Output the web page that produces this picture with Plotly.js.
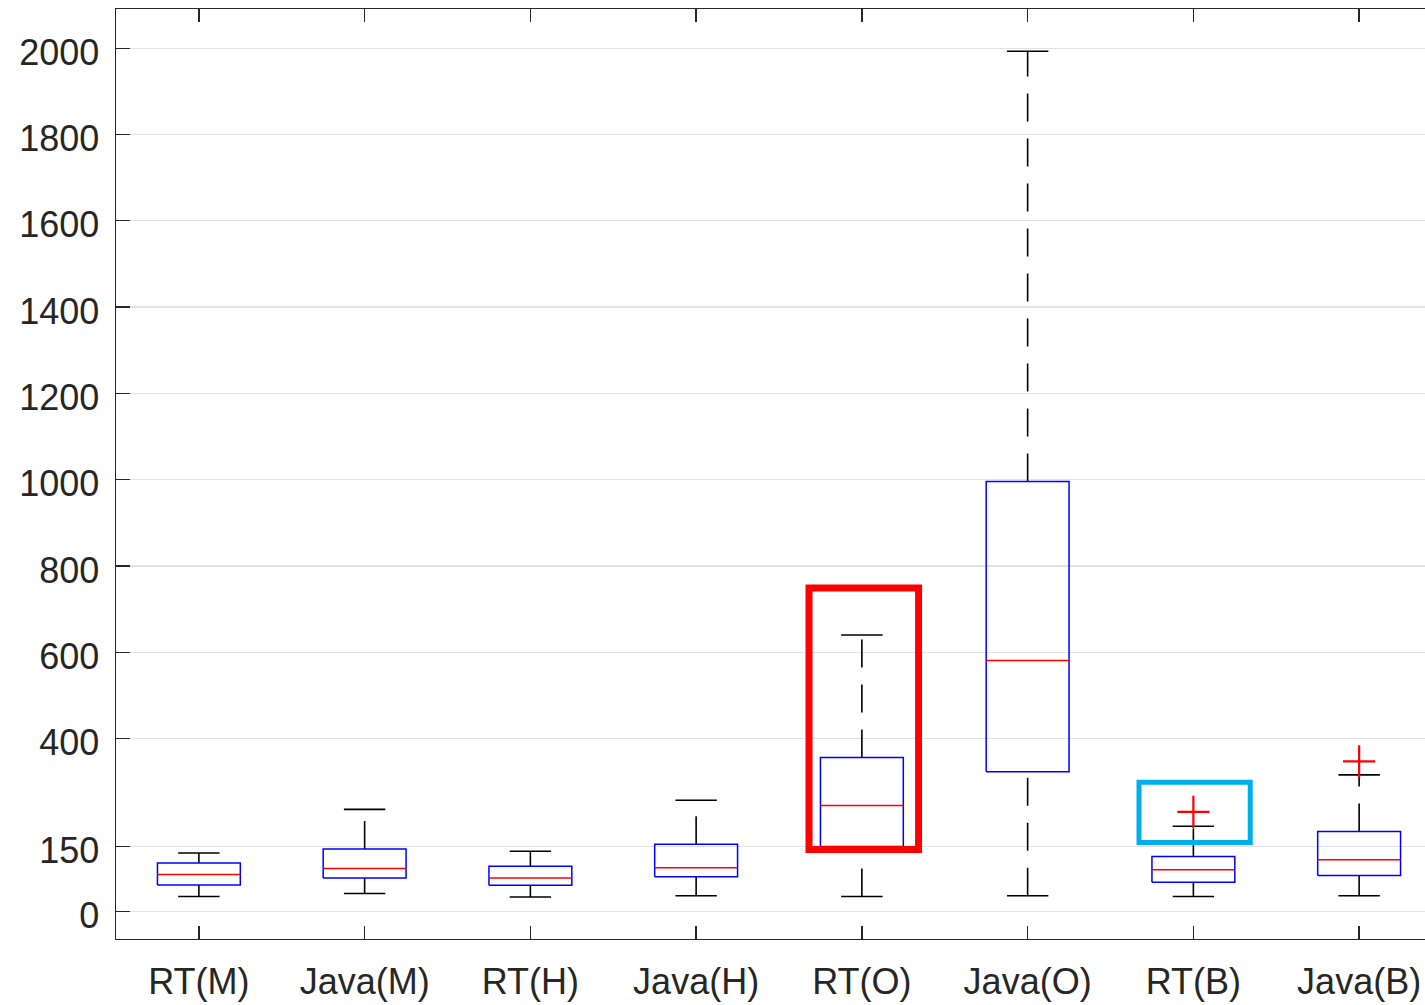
<!DOCTYPE html>
<html>
<head>
<meta charset="utf-8">
<script src="https://cdn.plot.ly/plotly-3.0.1.min.js"></script>
<style>
html, body { margin: 0; padding: 0; overflow: hidden; background: #ffffff; }
#chart { width: 1450px; height: 1005px; }
</style>
</head>
<body>
<div id="chart"></div>
<script>
// ---- data ----
const categories   = ['RT(M)', 'Java(M)', 'RT(H)', 'Java(H)', 'RT(O)', 'Java(O)', 'RT(B)', 'Java(B)'];
const lowerWhisker = [34, 41, 33, 36, 34, 36, 34, 36];
const q1           = [61, 77, 60, 80, 150, 323, 67, 83];
const medians      = [85, 99, 77, 101, 245, 581, 96, 119];
const q3           = [112, 144, 104, 155, 356, 996, 127, 185];
const upperWhisker = [135, 236, 139, 257, 640, 1993, 197, 316];
const outliers     = [[], [], [], [], [], [], [230], [347]];
const yTickVals    = [0, 150, 400, 600, 800, 1000, 1200, 1400, 1600, 1800, 2000];
const yTickText    = ['0', '150', '400', '600', '800', '1000', '1200', '1400', '1600', '1800', '2000'];

// ---- styling constants ----
const BOX_HALF = 0.25, CAP_HALF = 0.125, MED_HALF = 0.25;
const idx = categories.map((_, i) => i);
const textColor = '#262626';
const fontFam = '"Liberation Sans", Arial, Helvetica, sans-serif';

// whiskers (dashed): upper from q3 to upper whisker, lower from lower whisker to q1
const wx = [], wy = [];
idx.forEach(i => {
  wx.push(i, i, null, i, i, null);
  wy.push(q3[i], upperWhisker[i], null, lowerWhisker[i], q1[i], null);
});
// caps
const cx = [], cy = [];
idx.forEach(i => {
  cx.push(i - CAP_HALF, i + CAP_HALF, null, i - CAP_HALF, i + CAP_HALF, null);
  cy.push(upperWhisker[i], upperWhisker[i], null, lowerWhisker[i], lowerWhisker[i], null);
});
// boxes (q1..q3 outlines)
const bx = [], by = [];
idx.forEach(i => {
  bx.push(i - BOX_HALF, i + BOX_HALF, i + BOX_HALF, i - BOX_HALF, i - BOX_HALF, null);
  by.push(q1[i], q1[i], q3[i], q3[i], q1[i], null);
});
// medians
const mx = [], my = [];
idx.forEach(i => {
  mx.push(i - MED_HALF, i + MED_HALF, null);
  my.push(medians[i], medians[i], null);
});
// outliers
const ox = [], oy = [];
idx.forEach(i => outliers[i].forEach(v => { ox.push(i); oy.push(v); }));

const traces = [
  {
    type: 'scatter', mode: 'lines', x: wx, y: wy, connectgaps: false,
    line: { color: '#000000', width: 1.6, dash: '28px,17px' }, hoverinfo: 'skip', showlegend: false
  },
  {
    type: 'scatter', mode: 'lines', x: cx, y: cy, connectgaps: false,
    line: { color: '#000000', width: 1.6 }, hoverinfo: 'skip', showlegend: false
  },
  {
    type: 'scatter', mode: 'lines', x: bx, y: by, connectgaps: false,
    line: { color: '#0000ff', width: 1.5 }, hoverinfo: 'skip', showlegend: false
  },
  {
    type: 'scatter', mode: 'lines', x: mx, y: my, connectgaps: false,
    line: { color: '#ff0000', width: 1.5 }, hoverinfo: 'skip', showlegend: false
  },
  {
    type: 'scatter', mode: 'markers', x: ox, y: oy,
    marker: { symbol: 'cross-thin', size: 23, color: '#ff0000', line: { color: '#ff0000', width: 2.2 } },
    hoverinfo: 'skip', showlegend: false
  }
];

const layout = {
  width: 1450, height: 1005,
  margin: { l: 116, r: 8, t: 9, b: 66 },
  paper_bgcolor: '#ffffff', plot_bgcolor: '#ffffff',
  showlegend: false,
  font: { family: fontFam, size: 36, color: textColor },
  xaxis: {
    range: [-0.5, 7.5], tickvals: idx, ticktext: categories,
    showgrid: false, zeroline: false,
    showline: true, mirror: 'ticks', linecolor: textColor, linewidth: 1.4,
    ticks: 'inside', ticklen: 13, tickwidth: 1.3, tickcolor: textColor,
    ticklabelstandoff: 10,
    tickfont: { family: fontFam, size: 36, color: textColor }
  },
  yaxis: {
    range: [-64.4, 2090.8], tickvals: yTickVals, ticktext: yTickText,
    showgrid: true, gridcolor: '#e2e2e2', gridwidth: 1.2, zeroline: false,
    showline: true, mirror: 'ticks', linecolor: textColor, linewidth: 1.4,
    ticks: 'inside', ticklen: 14, tickwidth: 1.3, tickcolor: textColor,
    ticklabelstandoff: 8, ticklabelshift: 4,
    tickfont: { family: fontFam, size: 36, color: textColor }
  },
  shapes: [
    { type: 'rect', xref: 'x', yref: 'y', x0: 3.681, x1: 4.342, y0: 143, y1: 749,
      line: { color: '#ff0000', width: 7 }, fillcolor: 'rgba(0,0,0,0)', layer: 'above' },
    { type: 'rect', xref: 'x', yref: 'y', x0: 5.672, x1: 6.343, y0: 159, y1: 299,
      line: { color: '#00aeef', width: 5 }, fillcolor: 'rgba(0,0,0,0)', layer: 'above' }
  ]
};

Plotly.newPlot('chart', traces, layout, { displayModeBar: false, staticPlot: true });
</script>
</body>
</html>
